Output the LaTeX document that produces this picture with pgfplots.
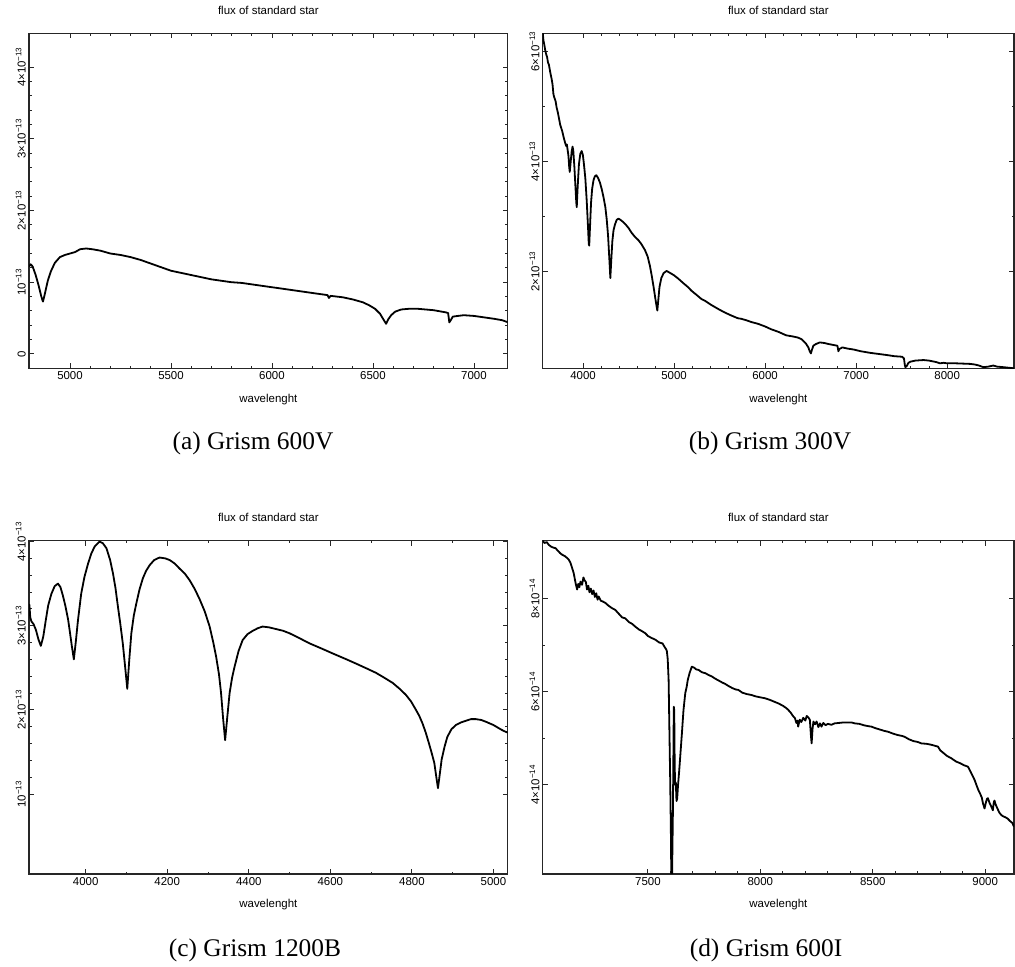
\documentclass[border=0pt]{standalone}
\usepackage{pgfplots}
\pgfplotsset{compat=1.18}
\usepackage{fontspec}
\setmainfont{Liberation Serif}
\newfontfamily\axfont{Liberation Sans}

\pgfplotstableread{
x y
4797 1.22
4805 1.25
4815 1.22
4830 1.10
4845 0.95
4858 0.80
4866 0.73
4874 0.82
4890 1.02
4905 1.15
4925 1.27
4950 1.35
4975 1.38
5000 1.40
5025 1.42
5050 1.46
5080 1.47
5110 1.46
5150 1.44
5200 1.40
5250 1.38
5300 1.35
5350 1.31
5400 1.26
5450 1.21
5500 1.16
5550 1.13
5600 1.10
5650 1.07
5700 1.04
5750 1.02
5800 1.00
5850 0.99
5900 0.97
5950 0.95
6000 0.93
6050 0.91
6100 0.89
6150 0.87
6200 0.85
6250 0.83
6275 0.82
6282 0.78
6290 0.81
6350 0.79
6400 0.76
6450 0.72
6480 0.68
6510 0.63
6535 0.56
6552 0.48
6565 0.42
6575 0.48
6590 0.54
6610 0.59
6640 0.62
6680 0.63
6720 0.63
6800 0.61
6860 0.58
6872 0.57
6878 0.44
6885 0.47
6895 0.52
6920 0.53
6950 0.54
7000 0.53
7050 0.51
7100 0.49
7140 0.47
7170 0.44
}\tabA

\pgfplotstableread{
x y
3557 6.35
3565 6.20
3575 6.12
3585 6.02
3595 5.95
3605 5.90
3615 5.80
3625 5.76
3640 5.62
3655 5.50
3665 5.40
3675 5.22
3685 5.16
3698 5.10
3710 4.98
3722 4.90
3734 4.80
3750 4.66
3770 4.56
3790 4.42
3805 4.33
3815 4.28
3822 4.31
3830 4.22
3840 4.10
3848 3.90
3854 3.81
3862 3.95
3875 4.18
3885 4.27
3893 4.20
3905 3.90
3918 3.50
3926 3.25
3931 3.17
3940 3.50
3955 3.95
3970 4.14
3985 4.19
3998 4.12
4010 3.95
4025 3.70
4040 3.30
4055 2.80
4063 2.50
4068 2.47
4075 2.75
4088 3.25
4100 3.50
4115 3.66
4130 3.73
4146 3.75
4165 3.70
4185 3.62
4205 3.50
4225 3.35
4245 3.17
4260 2.95
4275 2.65
4290 2.20
4300 1.88
4310 2.20
4322 2.55
4335 2.75
4350 2.85
4370 2.94
4390 2.96
4410 2.94
4440 2.90
4470 2.85
4500 2.79
4535 2.70
4570 2.63
4608 2.57
4640 2.50
4680 2.39
4710 2.27
4735 2.10
4755 1.92
4775 1.72
4795 1.50
4810 1.35
4816 1.29
4825 1.45
4840 1.72
4860 1.88
4885 1.97
4918 2.01
4960 1.97
5000 1.93
5046 1.87
5100 1.79
5150 1.72
5191 1.65
5250 1.57
5300 1.50
5337 1.47
5400 1.40
5483 1.32
5550 1.26
5628 1.20
5700 1.15
5738 1.14
5800 1.11
5850 1.08
5920 1.05
6000 1.00
6066 0.95
6150 0.90
6230 0.84
6300 0.82
6357 0.80
6400 0.77
6448 0.69
6475 0.62
6490 0.55
6503 0.51
6515 0.58
6530 0.65
6557 0.68
6600 0.71
6650 0.70
6700 0.68
6794 0.65
6800 0.60
6805 0.55
6815 0.59
6849 0.62
6900 0.60
6976 0.58
7050 0.55
7158 0.52
7250 0.50
7341 0.48
7420 0.46
7505 0.45
7525 0.42
7535 0.30
7541 0.26
7555 0.28
7575 0.34
7596 0.36
7650 0.38
7741 0.39
7800 0.38
7860 0.36
7887 0.35
7920 0.33
7960 0.34
8000 0.33
8100 0.33
8251 0.32
8300 0.31
8350 0.29
8397 0.26
8450 0.27
8506 0.29
8550 0.27
8620 0.26
8734 0.24
}\tabB

\pgfplotstableread{
x y
3861 3.12
3862 3.25
3864 3.10
3867 3.05
3872 3.02
3878 2.95
3884 2.84
3890 2.76
3896 2.87
3902 3.06
3908 3.24
3916 3.38
3924 3.47
3932 3.50
3938 3.46
3944 3.36
3950 3.24
3957 3.07
3962 2.90
3966 2.76
3971 2.60
3976 2.82
3981 3.06
3989 3.38
3997 3.58
4006 3.74
4014 3.86
4022 3.94
4034 4.00
4042 3.98
4051 3.92
4060 3.78
4067 3.62
4073 3.45
4079 3.23
4085 3.02
4091 2.79
4097 2.50
4102 2.25
4107 2.60
4112 2.91
4118 3.12
4124 3.26
4132 3.43
4140 3.56
4148 3.65
4157 3.72
4168 3.78
4181 3.81
4195 3.80
4206 3.78
4218 3.74
4230 3.68
4243 3.62
4255 3.54
4267 3.44
4279 3.32
4292 3.17
4304 2.99
4313 2.80
4320 2.63
4327 2.42
4332 2.20
4337 1.90
4342 1.64
4347 1.90
4353 2.20
4359 2.38
4365 2.51
4375 2.70
4385 2.83
4397 2.90
4410 2.94
4422 2.97
4434 2.99
4450 2.98
4467 2.96
4484 2.94
4500 2.91
4525 2.85
4549 2.79
4578 2.73
4606 2.67
4635 2.61
4663 2.55
4690 2.49
4712 2.44
4733 2.38
4753 2.32
4770 2.25
4785 2.18
4798 2.10
4810 2.00
4818 1.93
4826 1.84
4834 1.73
4842 1.60
4849 1.48
4855 1.37
4860 1.20
4864 1.07
4868 1.22
4873 1.41
4880 1.56
4887 1.68
4897 1.77
4908 1.82
4920 1.85
4932 1.87
4945 1.89
4957 1.89
4970 1.88
4981 1.86
5000 1.82
5014 1.78
5025 1.75
5035 1.73
}\tabC

\pgfplotstableread{
x y
7032 9.25
7040 9.20
7050 9.22
7059 9.16
7070 9.12
7080 9.10
7089 9.09
7100 9.03
7110 8.98
7118 8.95
7130 8.92
7140 8.88
7148 8.84
7155 8.78
7163 8.66
7170 8.55
7175 8.42
7180 8.30
7185 8.20
7190 8.32
7195 8.25
7200 8.37
7207 8.30
7213 8.46
7218 8.40
7224 8.36
7229 8.20
7235 8.28
7240 8.14
7246 8.22
7252 8.10
7258 8.18
7264 8.04
7270 8.12
7276 7.98
7281 8.05
7290 7.96
7300 7.94
7311 7.91
7325 7.85
7340 7.80
7355 7.76
7370 7.68
7385 7.60
7399 7.58
7415 7.50
7430 7.46
7444 7.40
7460 7.34
7475 7.30
7488 7.26
7500 7.20
7515 7.16
7533 7.12
7550 7.06
7565 7.04
7572 6.98
7580 6.92
7584 6.88
7588 6.70
7592 6.25
7596 5.00
7599 4.10
7602 3.00
7604 2.00
7607 1.90
7609 2.66
7611 3.40
7613 4.50
7615 5.68
7617 5.60
7619 4.40
7621 4.00
7624 4.05
7627 3.65
7630 3.70
7634 4.00
7639 4.30
7645 4.70
7651 5.10
7658 5.60
7666 5.97
7672 6.10
7677 6.25
7685 6.40
7695 6.54
7705 6.52
7715 6.48
7725 6.47
7740 6.42
7755 6.40
7770 6.36
7784 6.33
7800 6.28
7815 6.24
7830 6.20
7843 6.17
7860 6.12
7875 6.08
7890 6.05
7902 6.04
7920 5.98
7940 5.95
7961 5.93
7980 5.90
8000 5.88
8021 5.86
8040 5.83
8060 5.79
8080 5.75
8100 5.70
8115 5.65
8124 5.61
8135 5.55
8145 5.48
8154 5.43
8160 5.33
8165 5.38
8168 5.25
8175 5.40
8182 5.35
8191 5.44
8200 5.38
8206 5.48
8213 5.45
8220 5.40
8225 5.05
8228 4.89
8232 5.20
8236 5.36
8243 5.30
8250 5.36
8258 5.24
8265 5.32
8272 5.25
8280 5.33
8290 5.28
8300 5.31
8316 5.29
8330 5.32
8350 5.33
8370 5.34
8390 5.34
8405 5.34
8420 5.32
8440 5.31
8460 5.28
8480 5.26
8494 5.25
8510 5.22
8530 5.19
8550 5.16
8568 5.14
8590 5.10
8610 5.07
8630 5.05
8642 5.03
8660 4.98
8680 4.94
8700 4.92
8716 4.89
8740 4.88
8760 4.86
8775 4.84
8790 4.82
8800 4.74
8815 4.68
8830 4.62
8849 4.57
8870 4.50
8890 4.46
8905 4.42
8923 4.39
8935 4.28
8945 4.18
8953 4.10
8962 3.98
8970 3.88
8978 3.80
8985 3.72
8990 3.60
8997 3.49
9003 3.62
9008 3.70
9012 3.71
9020 3.60
9028 3.52
9034 3.45
9038 3.62
9041 3.66
9046 3.58
9055 3.48
9063 3.40
9071 3.35
9080 3.32
9090 3.30
9100 3.27
9110 3.22
9120 3.18
9128 3.10
}\tabD

\pgfplotsset{
  spec/.style={
    scale only axis,
    anchor=south west,
    axis line style={black!85, line width=1.1bp},
    tick align=inside, tick pos=both,
    major tick length=5bp, minor tick length=2.5bp,
    every tick/.style={black!85, line width=0.9bp},
    tick label style={font=\axfont\fontsize{11.5}{13}\selectfont},
    label style={font=\axfont\fontsize{11.5}{13}\selectfont},
    title={flux of standard star},
    title style={font=\axfont\fontsize{11.5}{13}\selectfont, at={(axis description cs:0.5,1)}, anchor=center, yshift=17bp},
    xlabel={wavelenght},
    xlabel style={at={(axis description cs:0.5,0)}, anchor=center, yshift=-31bp},
    yticklabel style={rotate=90, anchor=south, inner sep=3bp},
    xticklabel style={anchor=north, inner sep=3.5bp},
    /pgf/number format/assume math mode=true,
    /pgf/number format/set thousands separator={},
  },
  curve/.style={black, line width=1.8bp, line join=round},
}

\begin{document}
\begin{tikzpicture}
\useasboundingbox (0,0) rectangle (1015bp,967bp);

% (a)
\begin{axis}[spec, at={(29bp,598.7bp)}, width=478.7bp, height=335bp,
  xmin=4797, xmax=7167, ymin=-0.2, ymax=4.47,
  xtick={5000,5500,6000,6500,7000}, minor x tick num=4,
  ytick={0,1,2,3,4}, minor y tick num=4,
  yticklabels={0, 10\textsuperscript{−13}, 2×10\textsuperscript{−13}, 3×10\textsuperscript{−13}, 4×10\textsuperscript{−13}}]
\addplot[curve] table[x=x,y=y] {\tabA};
\end{axis}

% (b)
\begin{axis}[spec, at={(542.7bp,598.7bp)}, width=471.3bp, height=335bp,
  xmin=3557, xmax=8734, ymin=0.24, ymax=6.33,
  xtick={4000,5000,6000,7000,8000}, minor x tick num=4,
  ytick={2,4,6}, minor y tick num=1,
  yticklabels={2×10\textsuperscript{−13}, 4×10\textsuperscript{−13}, 6×10\textsuperscript{−13}}]
\addplot[curve] table[x=x,y=y] {\tabB};
\end{axis}

% (c)
\begin{axis}[spec, at={(29bp,93bp)}, width=478.7bp, height=333.3bp,
  xmin=3861, xmax=5035, ymin=0.05, ymax=4.01,
  xtick={4000,4200,4400,4600,4800,5000}, minor x tick num=1,
  ytick={1,2,3,4}, minor y tick num=4,
  yticklabels={10\textsuperscript{−13}, 2×10\textsuperscript{−13}, 3×10\textsuperscript{−13}, 4×10\textsuperscript{−13}}]
\addplot[curve] table[x=x,y=y] {\tabC};
\end{axis}

% (d)
\begin{axis}[spec, at={(542.7bp,93bp)}, width=471.3bp, height=333.3bp,
  xmin=7032, xmax=9128, ymin=2.08, ymax=9.25,
  xtick={7500,8000,8500,9000}, minor x tick num=4,
  ytick={4,6,8}, minor y tick num=1,
  yticklabels={4×10\textsuperscript{−14}, 6×10\textsuperscript{−14}, 8×10\textsuperscript{−14}}]
\addplot[curve] table[x=x,y=y] {\tabD};
\end{axis}

\node[font=\fontsize{25.5}{28}\selectfont] at (253bp,524bp) {(a) Grism 600V};
\node[font=\fontsize{25.5}{28}\selectfont] at (770bp,524bp) {(b) Grism 300V};
\node[font=\fontsize{25.5}{28}\selectfont] at (255bp,17bp) {(c) Grism 1200B};
\node[font=\fontsize{25.5}{28}\selectfont] at (766bp,17bp) {(d) Grism 600I};
\end{tikzpicture}
\end{document}
